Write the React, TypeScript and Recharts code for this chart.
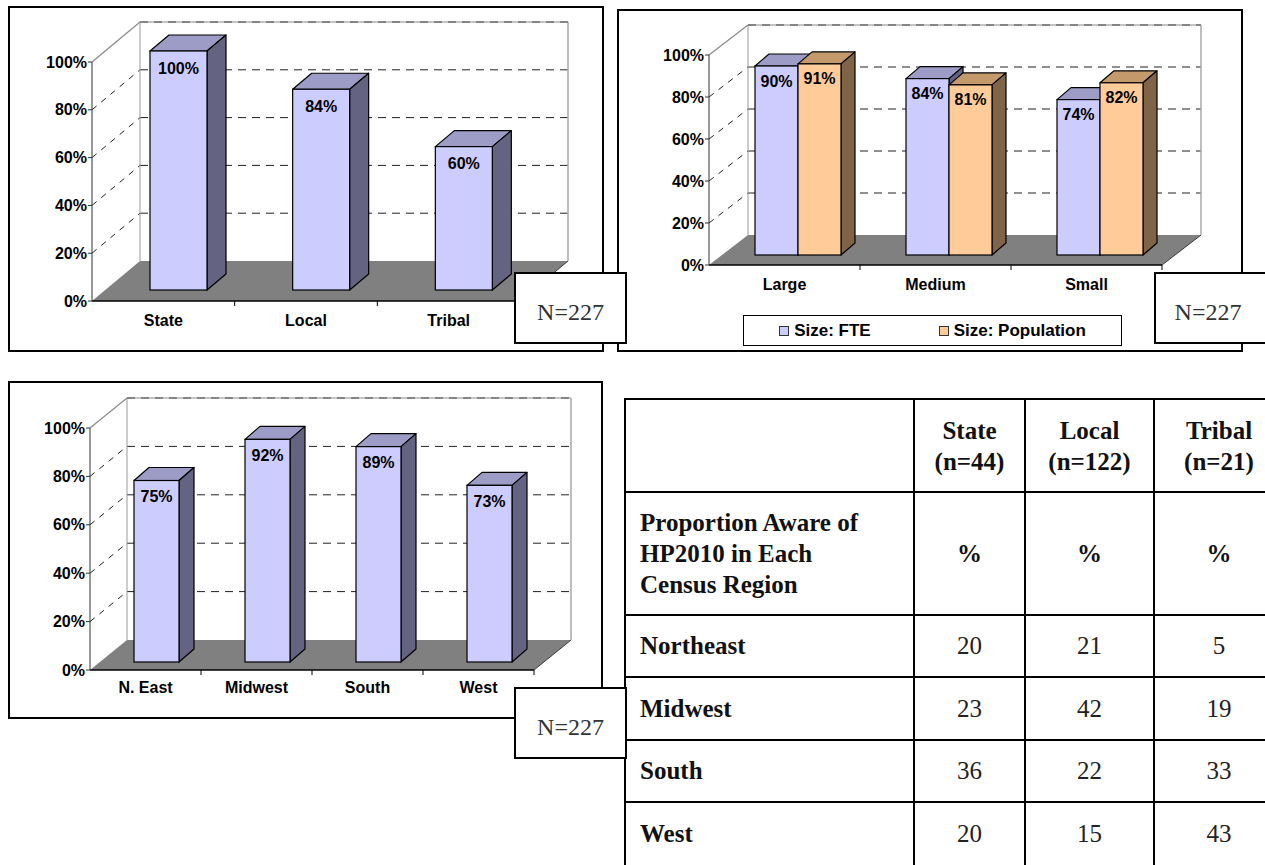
import React from "react";
import {
  BarChart,
  Bar,
  XAxis,
  YAxis,
  CartesianGrid,
  LabelList,
  Legend,
} from "recharts";

// percent scale shared by the three charts
const percentTicks = [0, 20, 40, 60, 80, 100];

// awareness by agency type
const agencyTypes = ["State", "Local", "Tribal"];
const agencyAware = [100, 84, 60];

// awareness by agency size
const sizeClasses = ["Large", "Medium", "Small"];
const sizeByFte = [90, 84, 74];
const sizeByPopulation = [91, 81, 82];

// awareness by census region
const censusRegions = ["N. East", "Midwest", "South", "West"];
const regionAware = [75, 92, 89, 73];

// regional breakdown table
const tableHeads = ["State", "Local", "Tribal"];
const tableCounts = ["(n=44)", "(n=122)", "(n=21)"];
const tableRows = ["Northeast", "Midwest", "South", "West"];
const stateShare = [20, 23, 36, 20];
const localShare = [21, 42, 22, 15];
const tribalShare = [5, 19, 33, 43];

const sampleLabel = "N=227";

const SANS = '"Liberation Sans", Arial, sans-serif';
const SERIF = '"Liberation Serif", "Times New Roman", serif';
const Y_AXIS_W = 50;
const X_AXIS_H = 30;

type Frame = {
  left: number;
  top: number;
  width: number;
  height: number;
  margin: { top: number; right: number; bottom: number; left: number };
  wall: number[]; // depth of the floor / side wall
  shift: number[]; // how far the bar front sits behind the front edge
  depth: number[]; // bar thickness
  barSize: number;
  labelDrop: number;
  tickMargin: number;
};

const agencyFrame: Frame = {
  left: 8,
  top: 6,
  width: 596,
  height: 346,
  margin: { top: 56, right: 84, bottom: 21, left: 34 },
  wall: [48, 40],
  shift: [15, 11],
  depth: [19, 16],
  barSize: 57,
  labelDrop: 17,
  tickMargin: 14,
};

const sizeFrame: Frame = {
  left: 617,
  top: 9,
  width: 626,
  height: 343,
  margin: { top: 46, right: 81, bottom: 57, left: 42 },
  wall: [39, 30],
  shift: [13, 10],
  depth: [14, 12],
  barSize: 43,
  labelDrop: 15,
  tickMargin: 14,
};

const regionFrame: Frame = {
  left: 8,
  top: 381,
  width: 595,
  height: 338,
  margin: { top: 47, right: 69, bottom: 19, left: 32 },
  wall: [37, 30],
  shift: [11, 8],
  depth: [15, 13],
  barSize: 45,
  labelDrop: 16,
  tickMargin: 12,
};

type Shades = { face: string; top: string; side: string };
const lilac: Shades = { face: "#CCCCFF", top: "#9C9CC6", side: "#646482" };
const peach: Shades = { face: "#FFCC99", top: "#C49A6C", side: "#806448" };

type Series = { key: string; name: string; shades: Shades };

const tickFont = {
  fill: "#000",
  fontSize: 16,
  fontWeight: 700,
  fontFamily: SANS,
};

// back wall, side wall and floor, hung off the horizontal grid lines
const wallLines = (f: Frame, count: number) => (p: any) => {
  const { x1, x2, y1, index } = p;
  const [dx, dy] = f.wall;
  const top = f.margin.top;
  const bottom = f.height - f.margin.bottom - X_AXIS_H;
  const k = `wall-${index}`;
  if (Math.abs(y1 - bottom) < 0.5) {
    const step = (x2 - x1) / count;
    return (
      <g key={k}>
        <polygon
          points={`${x1},${y1} ${x2},${y1} ${x2 + dx},${y1 - dy} ${x1 + dx},${y1 - dy}`}
          fill="#808080"
        />
        <line x1={x2} y1={y1} x2={x2 + dx} y2={y1 - dy} stroke="#3a3a3a" />
        {Array.from({ length: count }, (_, i) => (
          <line
            key={i}
            x1={x1 + step * (i + 1)}
            y1={y1}
            x2={x1 + step * (i + 1)}
            y2={y1 + 5}
            stroke="#000"
          />
        ))}
      </g>
    );
  }
  if (Math.abs(y1 - top) < 0.5) {
    return (
      <g key={k}>
        <line x1={x1 + dx} y1={top - dy} x2={x1 + dx} y2={bottom - dy} stroke="#9a9a9a" />
        <line x1={x2 + dx} y1={top - dy} x2={x2 + dx} y2={bottom - dy} stroke="#a8a8a8" strokeWidth={1.5} />
        <line x1={x1} y1={top} x2={x1 + dx} y2={top - dy} stroke="#8a8a8a" strokeWidth={1.2} />
        <line x1={x1 + dx} y1={top - dy} x2={x2 + dx} y2={top - dy} stroke="#c4c4c4" strokeWidth={2} />
        <line
          x1={x1 + dx}
          y1={top - dy}
          x2={x2 + dx}
          y2={top - dy}
          stroke="#858585"
          strokeWidth={2}
          strokeDasharray="8 6"
        />
      </g>
    );
  }
  return (
    <g key={k}>
      <line x1={x1} y1={y1} x2={x1 + dx} y2={y1 - dy} stroke="#222" strokeDasharray="6 6" />
      <line
        x1={x1 + dx}
        y1={y1 - dy}
        x2={x2 + dx}
        y2={y1 - dy}
        stroke="#222"
        strokeDasharray="8 6"
      />
    </g>
  );
};

// a bar drawn as a box: front, top and right faces
const prism = (f: Frame, c: Shades) => (p: any) => {
  const { x, y, width, height } = p;
  if (width == null || height == null) return <g />;
  const fx = x + f.shift[0];
  const fy = y - f.shift[1];
  const [sx, sy] = f.depth;
  return (
    <g>
      <polygon
        points={`${fx},${fy} ${fx + sx},${fy - sy} ${fx + width + sx},${fy - sy} ${fx + width},${fy}`}
        fill={c.top}
        stroke="#000"
        strokeWidth={1.2}
        strokeLinejoin="round"
      />
      <polygon
        points={`${fx + width},${fy} ${fx + width + sx},${fy - sy} ${fx + width + sx},${fy + height - sy} ${fx + width},${fy + height}`}
        fill={c.side}
        stroke="#000"
        strokeWidth={1.2}
        strokeLinejoin="round"
      />
      <rect x={fx} y={fy} width={width} height={height} fill={c.face} stroke="#000" strokeWidth={1.2} />
    </g>
  );
};

const valueLabel = (f: Frame) => (p: any) => {
  const vb = p.viewBox ?? {};
  const x = p.x ?? vb.x;
  const y = p.y ?? vb.y;
  const width = p.width ?? vb.width;
  if (x == null || y == null) return null;
  return (
    <text
      x={x + width / 2 + f.shift[0]}
      y={y - f.shift[1] + f.labelDrop}
      textAnchor="middle"
      dominantBaseline="central"
      fill="#000"
      fontSize={16}
      fontWeight={700}
      fontFamily={SANS}
    >
      {`${p.value}%`}
    </text>
  );
};

const sizeLegend = (props: any) => (
  <div
    style={{
      boxSizing: "border-box",
      width: 379,
      height: 31,
      border: "1.5px solid #000",
      background: "#fff",
      display: "flex",
      alignItems: "center",
      justifyContent: "center",
      gap: 68,
    }}
  >
    {(props.payload ?? []).map((item: any) => (
      <span
        key={item.value}
        style={{
          display: "flex",
          alignItems: "center",
          gap: 5,
          fontFamily: SANS,
          fontWeight: 700,
          fontSize: 17,
          color: "#000",
        }}
      >
        <span
          style={{
            display: "inline-block",
            width: 8,
            height: 8,
            border: "1px solid #333",
            background: item.color,
          }}
        />
        {item.value}
      </span>
    ))}
  </div>
);

function PrismChart({
  frame,
  rows,
  series,
  legend,
}: {
  frame: Frame;
  rows: any[];
  series: Series[];
  legend?: React.ReactNode;
}) {
  return (
    <>
      <div
        style={{
          position: "absolute",
          left: frame.left,
          top: frame.top,
          width: frame.width,
          height: frame.height,
          border: "2px solid #000",
          boxSizing: "border-box",
        }}
      />
      <div style={{ position: "absolute", left: frame.left, top: frame.top }}>
        <BarChart
          width={frame.width}
          height={frame.height}
          data={rows}
          margin={frame.margin}
          barGap={0}
        >
          <CartesianGrid vertical={false} horizontal={wallLines(frame, rows.length)} />
          <XAxis
            dataKey="name"
            height={X_AXIS_H}
            interval={0}
            tickLine={false}
            tickSize={0}
            tickMargin={frame.tickMargin}
            axisLine={{ stroke: "#000", strokeWidth: 1.5 }}
            tick={tickFont}
          />
          <YAxis
            width={Y_AXIS_W}
            domain={[0, 100]}
            ticks={percentTicks}
            tickFormatter={(v) => `${v}%`}
            tickSize={4}
            tickMargin={1}
            axisLine={{ stroke: "#333" }}
            tickLine={{ stroke: "#333" }}
            tick={tickFont}
          />
          {series.map((s) => (
            <Bar
              key={s.key}
              dataKey={s.key}
              name={s.name}
              fill={s.shades.face}
              barSize={frame.barSize}
              shape={prism(frame, s.shades)}
              isAnimationActive={false}
            >
              <LabelList dataKey={s.key} content={valueLabel(frame)} />
            </Bar>
          ))}
          {legend}
        </BarChart>
      </div>
    </>
  );
}

function SampleBox({ left, top, width, padRight = 0 }: { left: number; top: number; width: number; padRight?: number }) {
  return (
    <div
      style={{
        position: "absolute",
        left,
        top,
        width,
        height: 72,
        boxSizing: "border-box",
        border: "2px solid #000",
        background: "#fff",
        display: "flex",
        alignItems: "center",
        justifyContent: "center",
        paddingTop: 8,
        paddingRight: padRight,
        fontFamily: SERIF,
        fontSize: 24,
        color: "#333",
      }}
    >
      {sampleLabel}
    </div>
  );
}

const cell: React.CSSProperties = {
  border: "2px solid #000",
  padding: 0,
  verticalAlign: "middle",
  textAlign: "center",
};

function RegionTable() {
  const shares = [stateShare, localShare, tribalShare];
  const heights = [62, 63, 62, 64];
  return (
    <table
      style={{
        position: "absolute",
        left: 624,
        top: 398,
        borderCollapse: "collapse",
        tableLayout: "fixed",
        width: 659,
        fontFamily: SERIF,
        fontSize: 25,
        color: "#111",
      }}
    >
      <colgroup>
        <col style={{ width: 289 }} />
        <col style={{ width: 111 }} />
        <col style={{ width: 129 }} />
        <col style={{ width: 130 }} />
      </colgroup>
      <tbody>
        <tr style={{ height: 93 }}>
          <td style={cell} />
          {tableHeads.map((h, i) => (
            <td key={h} style={{ ...cell, fontWeight: 700, lineHeight: "31px" }}>
              {h}
              <br />
              {tableCounts[i]}
            </td>
          ))}
        </tr>
        <tr style={{ height: 123 }}>
          <td style={{ ...cell, textAlign: "left", paddingLeft: 14, fontWeight: 700, lineHeight: "31px" }}>
            Proportion Aware of
            <br />
            HP2010 in Each
            <br />
            Census Region
          </td>
          {tableHeads.map((h) => (
            <td key={h} style={{ ...cell, fontWeight: 700 }}>
              %
            </td>
          ))}
        </tr>
        {tableRows.map((r, i) => (
          <tr key={r} style={{ height: heights[i] }}>
            <td style={{ ...cell, textAlign: "left", paddingLeft: 14, fontWeight: 700 }}>{r}</td>
            {shares.map((col, j) => (
              <td key={j} style={{ ...cell, color: "#222" }}>
                {col[i]}
              </td>
            ))}
          </tr>
        ))}
      </tbody>
    </table>
  );
}

const agencyRows = agencyTypes.map((name, i) => ({ name, aware: agencyAware[i] }));
const sizeRows = sizeClasses.map((name, i) => ({
  name,
  fte: sizeByFte[i],
  population: sizeByPopulation[i],
}));
const regionRows = censusRegions.map((name, i) => ({ name, aware: regionAware[i] }));

export default function App() {
  return (
    <div
      style={{
        position: "absolute",
        left: 0,
        top: 0,
        width: 1265,
        height: 865,
        overflow: "hidden",
        background: "#fff",
      }}
    >
      <PrismChart
        frame={agencyFrame}
        rows={agencyRows}
        series={[{ key: "aware", name: "Aware", shades: lilac }]}
      />
      <PrismChart
        frame={sizeFrame}
        rows={sizeRows}
        series={[
          { key: "fte", name: "Size: FTE", shades: lilac },
          { key: "population", name: "Size: Population", shades: peach },
        ]}
        legend={
          <Legend
            layout="horizontal"
            align="center"
            verticalAlign="middle"
            wrapperStyle={{ left: 126, top: 306, width: 379, height: 31 }}
            content={sizeLegend}
          />
        }
      />
      <PrismChart
        frame={regionFrame}
        rows={regionRows}
        series={[{ key: "aware", name: "Aware", shades: lilac }]}
      />
      <RegionTable />
      <SampleBox left={514} top={272} width={113} />
      <SampleBox left={1154} top={272} width={122} padRight={14} />
      <SampleBox left={514} top={687} width={113} />
    </div>
  );
}
